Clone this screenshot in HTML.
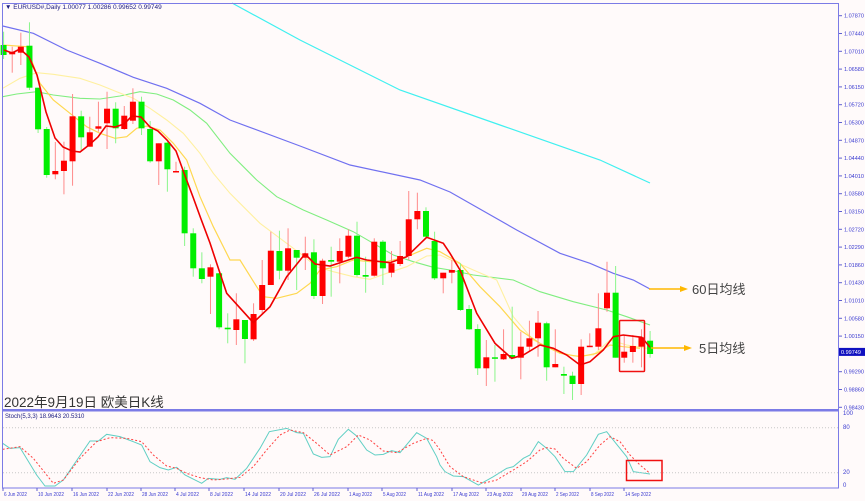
<!DOCTYPE html>
<html><head><meta charset="utf-8"><style>
html,body{margin:0;padding:0;background:#fff;}
svg{display:block;font-family:"Liberation Sans","Noto Sans CJK SC",sans-serif;}
</style></head><body>
<svg id="s" width="865" height="501" viewBox="0 0 865 501" xmlns="http://www.w3.org/2000/svg">
<rect x="0" y="0" width="865" height="501" fill="#fffafa"/>
<g id="ma" fill="none" stroke-width="1.2"></g>
<g id="c"></g>
<g id="st" fill="none"></g>
<rect x="2.5" y="3.5" width="836" height="406" fill="none" stroke="#7b7be6" stroke-width="1"/>
<line x1="2" y1="410.5" x2="839" y2="410.5" stroke="#7b7be6" stroke-width="2"/>
<rect x="2.5" y="410.5" width="836" height="77.5" fill="none" stroke="#7b7be6" stroke-width="1"/>
<line x1="3" y1="427.7" x2="838" y2="427.7" stroke="#c8c8c8" stroke-dasharray="1,2"/>
<line x1="3" y1="472.7" x2="838" y2="472.7" stroke="#c8c8c8" stroke-dasharray="1,2"/>
<g id="ax" font-size="6" fill="#3a3ad0"></g>
<text x="5" y="9" font-size="6.5" fill="#1a1a80">▼ EURUSD#,Daily  1.00077 1.00286 0.99652 0.99749</text>
<text x="5" y="418" font-size="6" fill="#1a1a80">Stoch(5,3,3) 18.9643 20.5310</text>
<text x="4" y="407" font-size="13.5" fill="#333">2022年9月19日 欧美日K线</text>
<rect x="619.5" y="320.5" width="25" height="51" fill="none" stroke="#f01010" stroke-width="1.5" rx="1"/>
<rect x="626.5" y="460.5" width="35.5" height="20" fill="none" stroke="#f01010" stroke-width="1.5"/>
<line x1="649" y1="289" x2="682" y2="289" stroke="#ffb800" stroke-width="1.5"/>
<polygon points="680,286 688,289 680,292" fill="#ffb800"/>
<line x1="651" y1="348" x2="686" y2="348" stroke="#ffb800" stroke-width="1.5"/>
<polygon points="684,345 692,348 684,351" fill="#ffb800"/>
<text x="692" y="294" font-size="13" fill="#444">60日均线</text>
<text x="699" y="353" font-size="13" fill="#444">5日均线</text>
</svg>
<script>
const NS="http://www.w3.org/2000/svg";
function el(p,t,a){const e=document.createElementNS(NS,t);for(const k in a)e.setAttribute(k,a[k]);p.appendChild(e);return e;}
const X=i=>3.6+8.62*i;
const C=[[45,55,31.7,59,0],[51.7,54.3,46.7,72.7,1],[46.7,52.7,32.7,65,1],[45.7,87.7,22.3,90,0],[87.7,129.3,87.7,133,0],[129,175,127,177.7,0],[171,174.3,142,179.3,1],[160.7,171,141.7,194.3,1],[116.3,161.3,94,185.7,1],[116.3,137.3,110.7,150,0],
[132.3,146.7,116.7,146.7,1],[126.3,128.7,101.7,131.7,1],[108.7,123.3,91.7,149,1],[108.7,128.3,102.3,143.3,0],[115.7,129,106,130,1],[101.7,120.7,88.3,124,1],[101.7,128.3,96.7,135,0],[129,161.3,121,162.7,0],[143.3,161.3,143.3,185,1],[142.7,169.3,141.7,191.7,0],
[171,172.3,161.7,172.3,1],[170,233.3,166.7,246,0],[233.3,268.3,228.3,276.7,0],[268.3,279,252.3,283.3,0],[267.3,276.7,264.3,314,1],[273.3,327.3,273,329.3,0],[327.7,329.3,313.3,343.3,0],[319.3,330,293.3,345,1],[320,339,320,363.3,0],[314,339.3,303.3,341,1],
[285,310,260,314,1],[250.7,285,231.7,285,1],[251,270.7,230.7,279.3,0],[248.3,270.7,228.3,280,1],[250,257.7,250,290,0],[253.3,257.7,236.7,270,1],[252.3,296,239.3,299,0],[260.7,296,258.7,304,1],[260,261.7,246.7,296.7,0],[251,261.7,238.3,283.3,1],
[235.7,256.7,229.3,258.3,1],[235.7,275,221.7,276.7,0],[275,276.7,256.7,292.7,0],[241.7,275.7,238.3,276.7,1],[241.7,268.3,240,285,0],[263.3,272.7,251,277.3,1],[256,264,241,266,1],[219.3,256,191,260,1],[211,219.3,192.7,229.3,1],[211,236.7,207.3,237.3,0],
[241,278.3,231.7,280,0],[272.7,278.3,272.7,293.3,1],[270,272.7,260,283.3,1],[270,310,263.3,311,0],[309,329.3,305,330,0],[329,368.3,324.3,375,0],[357.3,368.3,340,386,1],[357.3,358.3,345,381.7,0],[354,359.3,329.3,360,1],[355,358.3,306.7,358.3,0],
[346.7,357.7,331.7,379.3,1],[338.3,346.7,320.7,350.7,1],[322.7,338.3,311,356.7,1],[323.3,367.3,321.7,380.7,0],[364,367.3,329.3,367.3,1],[374,375.7,366.7,394,0],[375.7,384,371.7,400,0],[346.7,384,339.3,395,1],[345.7,346.7,333.3,346.7,1],[328.3,346.7,293.3,350,1],
[292.7,308.3,261.7,311.7,1],[292.7,357.7,266,357.7,0],[351.7,357.7,335,362.7,1],[346,352,335,362.7,1],[337.3,346.7,329.3,367.3,1],[340.7,354,331,357.7,0]];
const g=document.getElementById('c');
C.forEach((c,i)=>{const x=X(i),col=c[4]?'#ff0000':'#00ee00',wc=c[4]?'#ff8a8a':'#8af58a';
el(g,'line',{x1:x,x2:x,y1:c[2],y2:c[3],stroke:wc,'stroke-width':1});
el(g,'rect',{x:x-3,y:c[0],width:6,height:Math.max(1.5,c[1]-c[0]),fill:col});});
const ma=document.getElementById('ma');
function pl(p,pts,col,w,extra){const a={points:pts.map(q=>q.join(',')).join(' '),stroke:col,'stroke-width':w,fill:'none'};Object.assign(a,extra||{});el(p,'polyline',a);}
pl(ma,[[232,3],[300,40],[400,90],[500,125],[600,160],[650,183]],'#40f0f0',1.2);
pl(ma,[[2.7,26],[33.3,33.3],[66.7,50],[100,63.3],[133.3,77.3],[166.7,88.3],[200,103.3],[230,120],[300,146],[350,165],[420,180],[450,192],[516.7,230],[560,253.3],[590,263.3],[613.3,273.3],[633.3,280],[650,289]],'#7070f0',1.2);
pl(ma,[[2.7,96.7],[16.7,94],[36.7,91.7],[53.3,95],[80,98.3],[100,99],[120,96],[140,91.7],[156.7,94],[173.3,100],[190,110],[206.7,123.3],[230,153.3],[256.7,180],[276.7,196.7],[303.3,210],[326.7,220],[353.3,231.7],[373.3,243.3],[393.3,255],[413.3,261.7],[433.3,267.3],[450,270],[473.3,275],[513.3,280],[540,291.7],[573.3,301.7],[606.7,310],[626.7,316.7],[650,325]],'#80ee80',1.1);
pl(ma,[[2.7,88.3],[20,78.3],[36.7,72.7],[53.3,74.3],[80,78.3],[100,85],[116.7,91.7],[133.3,98.3],[150,108.3],[166.7,120],[183.3,133.3],[200,153.3],[213.3,173.3],[230,193.3],[240,203.3],[260,223.3],[280,238.3],[300,253.3],[316.7,266.7],[333.3,271.7],[353.3,276.7],[370,279.3],[386.7,273.3],[406.7,266.7],[426.7,256],[440,255],[473.3,270],[496.7,280],[513.3,316.7],[533.3,340],[553.3,350],[573.3,356],[593.3,355],[610,340],[626.7,345],[646.7,348.3]],'#fff0a0',1.1);
pl(ma,[[2.7,45],[26.7,46.7],[40,83.3],[53.3,100],[70,113.3],[86.7,126.7],[100,133.3],[115,138.3],[126.7,136.7],[136.7,128.3],[146.7,126],[160,130],[173.3,143.3],[186.7,160],[200,196.7],[213.3,226.7],[230,260],[240,260],[256.7,286.7],[263.3,296.7],[276.7,298.3],[296.7,293.3],[310,283.3],[320,270],[336.7,266.7],[353.3,260],[370,261.7],[386.7,261.7],[406.7,256.7],[426.7,248.3],[440,251.7],[460,263.3],[480,286.7],[500,306.7],[520,330],[540,343.3],[560,353.3],[580,356.7],[596.7,353.3],[610,345],[623.3,346.7],[640,348.3]],'#ffd850',1.2);
pl(document.getElementById('c'),[[4,50],[12,53],[20,49],[29,57],[37,75],[46,112],[55,138],[63,147],[72,151],[80,152],[89,145],[98,137],[106,126],[115,127],[124,124],[132,116],[141,117],[150,127],[158,131],[167,140],[176,151],[184,173],[193,197],[201,219],[210,243],[220,273.3],[226.7,293.3],[253.3,322.7],[270,306.7],[286.7,276.7],[305,254],[315,264],[330,266],[356.7,257.3],[366.7,260],[390,262.7],[406.7,256.7],[426.7,237.3],[443.3,243.3],[450,253.3],[460,270],[476.7,313.3],[495,343.3],[511.7,358.3],[523.3,355],[540,345],[553.3,348.3],[566.7,355],[580,365],[590,361.7],[603.3,350],[613.3,336.7],[623.3,335],[641.7,337.3],[650,347.3]],'#ee0000',1.6);
const st=document.getElementById('st');
const z3t=[[8,190],[30,205],[60,203],[110,285],[135,318],[165,318],[190,300],[270,183],[295,183],[320,163],[360,170],[400,185],[425,195],[450,245],[480,263],[505,270],[530,262],[555,285],[605,310],[625,295],[660,298],[680,293],[705,298],[740,265],[780,205],[808,155],[860,145],[890,158],[910,160],[940,222],[965,232],[990,230],[1015,178],[1045,148],[1070,168],[1100,210],[1125,225],[1150,223],[1175,212],[1200,218],[1250,158],[1280,175],[1310,230]].map(p=>[p[0]/3,p[1]/3+380]);
const z8t=[[0,180],[15,200],[40,213],[70,215],[115,240],[160,215],[200,190],[220,185],[250,160],[270,150],[295,110],[320,130],[345,155],[375,200],[400,200],[440,150],[475,88],[500,80],[530,118],[560,155],[580,200],[630,207]].map(p=>[p[0]/3+440,p[1]/3+405]);
const z3r=[[8,208],[60,200],[100,235],[160,310],[190,300],[240,235],[290,185],[330,173],[380,175],[425,185],[460,225],[500,258],[530,265],[560,280],[600,293],[640,300],[680,297],[720,292],[760,260],[800,210],[840,165],[870,150],[910,158],[950,190],[990,225],[1040,200],[1075,165],[1110,180],[1150,213],[1190,218],[1240,190],[1280,175],[1300,182]].map(p=>[p[0]/3,p[1]/3+380]);
const z8r=[[0,135],[30,185],[70,215],[130,235],[170,225],[220,195],[260,170],[300,135],[320,128],[345,132],[370,160],[410,190],[440,170],[480,120],[510,95],[540,110],[570,150],[600,180],[630,205]].map(p=>[p[0]/3+440,p[1]/3+405]);
pl(st,z3t.concat(z8t),'#60cfc4',1);
pl(st,z3r.concat(z8r),'#ff4040',1,{'stroke-dasharray':'2,2'});
const ax=document.getElementById('ax');
const vals=["1.07870","1.07440","1.07010","1.06580","1.06150","1.05720","1.05300","1.04870","1.04440","1.04010","1.03580","1.03150","1.02720","1.02290","1.01860","1.01430","1.01010","1.00580","1.00150","0.99720","0.99290","0.98860","0.98430"];
vals.forEach((v,k)=>{const y=15.7+17.8*k;if(v==="0.99720")return;
el(ax,'line',{x1:839,x2:842,y1:y,y2:y,stroke:'#6060d0'});const t=el(ax,'text',{x:844,y:y+2,'font-size':5.5});t.textContent=v;});
const by=351.9;el(ax,'rect',{x:839,y:by-4,width:26,height:8,fill:'#1010c0'});
const tb=el(ax,'text',{x:841,y:by+2,fill:'#fff','font-size':5.5});tb.textContent="0.99749";
[["100",415],["80",429],["20",474],["0",487]].forEach(a=>{const t=el(ax,'text',{x:843,y:a[1]});t.textContent=a[0];});
const D=[["6 Jun 2022",3],["10 Jun 2022",37],["16 Jun 2022",72],["22 Jun 2022",107],["28 Jun 2022",141],["4 Jul 2022",175],["8 Jul 2022",209],["14 Jul 2022",244],["20 Jul 2022",279],["26 Jul 2022",313],["1 Aug 2022",348],["5 Aug 2022",382],["11 Aug 2022",417],["17 Aug 2022",452],["23 Aug 2022",486],["29 Aug 2022",521],["2 Sep 2022",555],["8 Sep 2022",590],["14 Sep 2022",624]];
D.forEach(d=>{el(ax,'line',{x1:d[1],x2:d[1],y1:488,y2:491,stroke:'#6060d0'});const t=el(ax,'text',{x:d[1]+1,y:496,'font-size':5.5,textLength:d[0].length>10?26:23,lengthAdjust:'spacingAndGlyphs'});t.textContent=d[0];});
</script>
</body></html>
